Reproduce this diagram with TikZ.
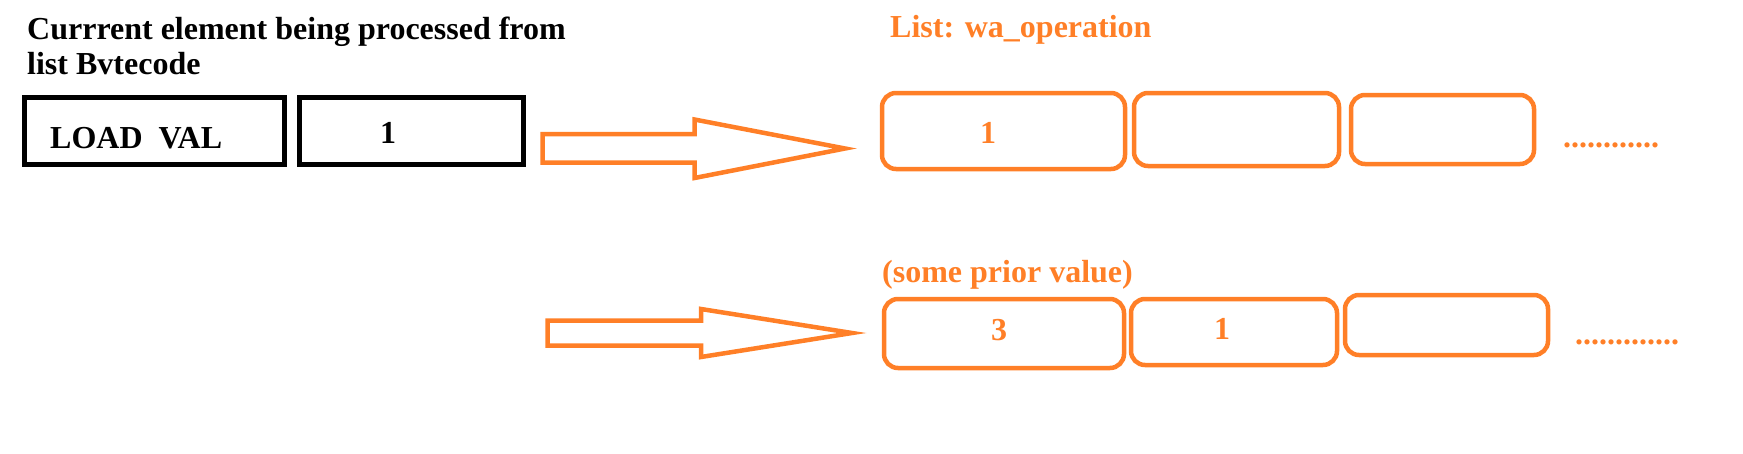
\documentclass[tikz,border=0pt]{standalone}
\usepackage{fontspec}
\setmainfont{Liberation Serif}

\definecolor{paintorange}{RGB}{255,127,39}

\begin{document}
\begin{tikzpicture}[x=1pt,y=-1pt,font=\fontsize{32}{38}\selectfont\bfseries]
        \useasboundingbox (0,0) rectangle (1743,453);

        % texts
        \begin{scope}[every node/.style={anchor=base west, inner sep=0pt}]
          \node (head1) at (27,39)  {Currrent element being processed from};
          \node (head2) at (27,74)  {list Bvtecode};
          \node (op)    at (50,148) {LOAD\ \ VAL};
        \end{scope}

        \begin{scope}[every node/.style={anchor=base west, inner sep=0pt, text=paintorange}]
          \node (list)  at (890,37)   {List: wa\_operation};
          \node (prior) at (882,282)  {(some prior value)};
          \node (more1) at (1563,147) {............};
          \node (more2) at (1575,344) {.............};
        \end{scope}

        % bytecode element
        \begin{scope}[every node/.style={draw, line width=5pt, inner sep=0pt, outer sep=0pt}]
          \node[minimum width=260pt, minimum height=67pt] (load) at (154.5,131) {};
          \node[minimum width=224pt, minimum height=67pt] (val)  at (411.5,131) {};
        \end{scope}

        % list cells
        \begin{scope}[every node/.style={draw=paintorange, line width=4.5pt, rounded corners=14pt,
                                         inner sep=0pt, outer sep=0pt}]
          \node[minimum width=243pt, minimum height=76pt] (w1) at (1003.5,131)  {};
          \node[minimum width=205pt, minimum height=73pt] (w2) at (1236.5,129.5) {};
          \node[minimum width=183pt, minimum height=69pt] (w3) at (1442.5,129.5) {};
          \node[minimum width=240pt, minimum height=69pt] (p1) at (1004,333.5)  {};
          \node[minimum width=206pt, minimum height=66pt] (p2) at (1234,332)    {};
          \node[minimum width=203pt, minimum height=60pt] (p3) at (1446.5,325)  {};
        \end{scope}

        % values
        \begin{scope}[every node/.style={anchor=base, inner sep=0pt}]
          \node (v0) at (388,143) {1};
          \node[text=paintorange] (v1) at (988,143)  {1};
          \node[text=paintorange] (v2) at (999,340)  {3};
          \node[text=paintorange] (v3) at (1222,339) {1};
        \end{scope}

        % arrows
        \begin{scope}[paintorange, line width=4.5pt, line join=miter]
          \draw (542.5,134) -- (694.5,134) -- (694.5,119.5) -- (845,148.5)
                -- (694.5,178) -- (694.5,162.5) -- (542.5,162.5) -- cycle;
          \draw (547.5,320.5) -- (701,320.5) -- (701,309) -- (852,333)
                -- (701,357) -- (701,345.5) -- (547.5,345.5) -- cycle;
        \end{scope}

      \end{tikzpicture}
\end{document}
